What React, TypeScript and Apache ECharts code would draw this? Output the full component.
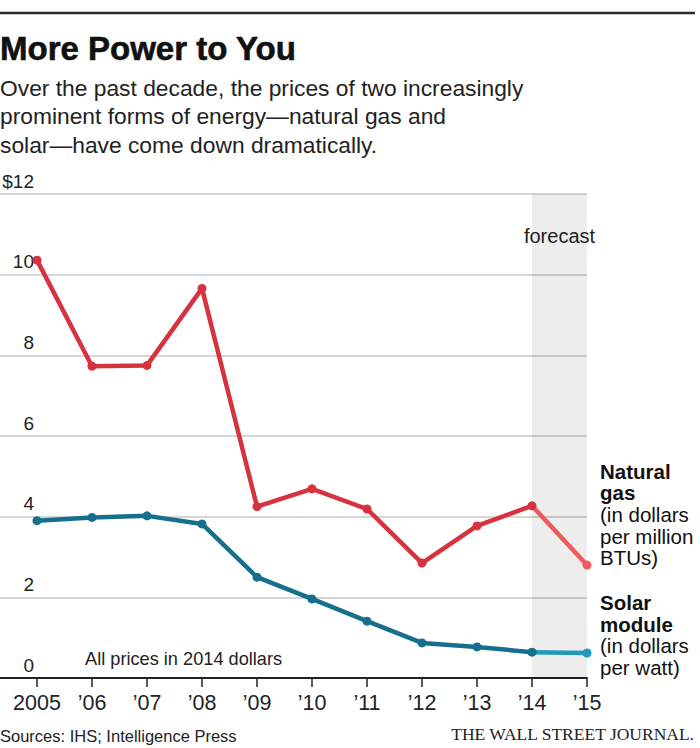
import React, { useEffect, useRef } from "react";
import * as echarts from "echarts";

// ---- data ----
const years = [2005, 2006, 2007, 2008, 2009, 2010, 2011, 2012, 2013, 2014, 2015];
const xTickLabels = ["2005", "\u201906", "\u201907", "\u201908", "\u201909", "\u201910", "\u201911", "\u201912", "\u201913", "\u201914", "\u201915"];
const gasPrices = [10.36, 7.73, 7.75, 9.66, 4.25, 4.69, 4.19, 2.85, 3.77, 4.27, 2.8];
const solarPrices = [3.9, 3.98, 4.02, 3.82, 2.5, 1.96, 1.41, 0.87, 0.77, 0.64, 0.62];
const yTicks = [0, 2, 4, 6, 8, 10, 12];
const forecastStart = 2014;
const forecastEnd = 2015;

const titleText = "More Power to You";
const subtitleLines = [
  "Over the past decade, the prices of two increasingly",
  "prominent forms of energy\u2014natural gas and",
  "solar\u2014have come down dramatically.",
];
const gasLabelBold = ["Natural", "gas"];
const gasLabelUnit = ["(in dollars", "per million", "BTUs)"];
const solarLabelBold = ["Solar", "module"];
const solarLabelUnit = ["(in dollars", "per watt)"];
const noteText = "All prices in 2014 dollars";
const sourceText = "Sources: IHS; Intelligence Press";
const creditText = "THE WALL STREET JOURNAL.";
const forecastText = "forecast";

const SANS = "'Liberation Sans', Arial, sans-serif";
const RED = "#d6333f";
const RED_LIGHT = "#ef5a5f";
const TEAL = "#176f8e";
const TEAL_LIGHT = "#1f99bd";

export default function App() {
  const ref = useRef<HTMLDivElement>(null);

  useEffect(() => {
    if (!ref.current) return;
    const chart = echarts.init(ref.current, null, { renderer: "svg" });

    const histIdx = years.map((y, i) => i).filter((i) => years[i] <= forecastStart);
    const fcIdx = years.map((y, i) => i).filter((i) => years[i] >= forecastStart);

    const gasHist = histIdx.map((i) => [years[i], gasPrices[i]]);
    const solarHist = histIdx.map((i) => [years[i], solarPrices[i]]);
    const gasFc = fcIdx.map((i, k) =>
      k === 0 ? { value: [years[i], gasPrices[i]], symbol: "none" } : { value: [years[i], gasPrices[i]] }
    );
    const solarFc = fcIdx.map((i, k) =>
      k === 0 ? { value: [years[i], solarPrices[i]], symbol: "none" } : { value: [years[i], solarPrices[i]] }
    );

    const rightX = 600;
    const labelF = 20.5;
    const lineTexts: any[] = [];
    const addLines = (lines: string[], baselines: number[], bold: boolean) => {
      lines.forEach((t, i) => {
        lineTexts.push({
          type: "text",
          x: rightX,
          y: baselines[i] - 0.35 * labelF,
          style: {
            text: t,
            font: `${bold ? "bold " : ""}${labelF}px ${SANS}`,
            fill: "#111",
            textAlign: "left",
            textVerticalAlign: "middle",
          },
        });
      });
    };
    addLines(gasLabelBold, [479, 500], true);
    addLines(gasLabelUnit, [522, 543.5, 565], false);
    addLines(solarLabelBold, [610, 631.5], true);
    addLines(solarLabelUnit, [653, 675], false);

    const subF = 22.8;
    const subBaselines = [95.7, 124.2, 152.7];

    const lineBase = {
      type: "line",
      lineStyle: { width: 4.5 },
      symbol: "circle",
      symbolSize: 9,
      showSymbol: true,
      silent: true,
    };

    chart.setOption({
      animation: false,
      grid: { left: 0, right: 113, top: 194, bottom: 70, containLabel: false, outerBoundsMode: "none" },
      xAxis: {
        type: "value",
        min: 2005 - 37 / 55,
        max: forecastEnd,
        splitLine: { show: false },
        axisLine: { show: true, lineStyle: { color: "#222", width: 2 } },
        axisTick: {
          show: true,
          customValues: years,
          length: 9,
          lineStyle: { color: "#222", width: 1.5 },
        },
        axisLabel: {
          customValues: years,
          formatter: (v: number) => xTickLabels[years.indexOf(Math.round(v))] ?? "",
          fontFamily: SANS,
          fontSize: 21.5,
          color: "#222",
          margin: 14,
          lineHeight: 21.5,
        },
      },
      yAxis: {
        type: "value",
        min: 0,
        max: 12,
        interval: 2,
        axisLine: { show: false },
        axisTick: { show: false },
        splitLine: { show: true, lineStyle: { color: "#c8c8c8", width: 1.5 } },
        axisLabel: {
          inside: true,
          margin: 34,
          align: "right",
          verticalAlign: "bottom",
          lineHeight: 20,
          padding: [0, 0, 3, 0],
          fontFamily: SANS,
          fontSize: 19,
          color: "#222",
          formatter: (v: number) => (v === yTicks[yTicks.length - 1] ? "$" + v : String(v)),
        },
      },
      series: [
        {
          type: "line",
          data: [],
          z: 1,
          markArea: {
            silent: true,
            itemStyle: { color: "rgba(0,0,0,0.072)" },
            label: {
              show: true,
              position: "insideTop",
              distance: 32,
              formatter: forecastText,
              fontFamily: SANS,
              fontSize: 20,
              color: "#222",
            },
            data: [[{ xAxis: forecastStart }, { xAxis: forecastEnd }]],
          },
        },
        { ...lineBase, z: 3, data: gasFc, itemStyle: { color: RED_LIGHT }, lineStyle: { width: 4.5, color: RED_LIGHT } },
        { ...lineBase, z: 4, data: gasHist, itemStyle: { color: RED }, lineStyle: { width: 4.5, color: RED } },
        { ...lineBase, z: 3, data: solarFc, itemStyle: { color: TEAL_LIGHT }, lineStyle: { width: 4.5, color: TEAL_LIGHT } },
        { ...lineBase, z: 4, data: solarHist, itemStyle: { color: TEAL }, lineStyle: { width: 4.5, color: TEAL } },
      ],
      graphic: [
        {
          type: "line",
          shape: { x1: 0, y1: 13, x2: 695, y2: 13 },
          style: { stroke: "#2a2a2a", lineWidth: 2.5 },
        },
        {
          type: "text",
          x: 0,
          y: 60 - 0.35 * 33,
          style: {
            text: titleText,
            font: `bold 33px ${SANS}`,
            fill: "#111",
            textAlign: "left",
            textVerticalAlign: "middle",
            stroke: "#111",
            lineWidth: 0.6,
          },
        },
        ...subtitleLines.map((t, i) => ({
          type: "text",
          x: 0,
          y: subBaselines[i] - 0.35 * subF,
          style: {
            text: t,
            font: `${subF}px ${SANS}`,
            fill: "#222",
            textAlign: "left",
            textVerticalAlign: "middle",
          },
        })),
        {
          type: "text",
          x: 85,
          y: 665 - 0.35 * 18.2,
          style: {
            text: noteText,
            font: `18.2px ${SANS}`,
            fill: "#222",
            textAlign: "left",
            textVerticalAlign: "middle",
          },
        },
        {
          type: "text",
          x: 0,
          y: 742 - 0.35 * 16.5,
          style: {
            text: sourceText,
            font: `16.5px ${SANS}`,
            fill: "#222",
            textAlign: "left",
            textVerticalAlign: "middle",
          },
        },
        {
          type: "text",
          x: 694,
          y: 740 - 0.33 * 17.5,
          style: {
            text: creditText,
            font: `17.5px 'Liberation Serif', 'Times New Roman', serif`,
            fill: "#222",
            textAlign: "right",
            textVerticalAlign: "middle",
          },
        },
        ...lineTexts,
      ],
    });

    return () => chart.dispose();
  }, []);

  return (
    <div
      ref={ref}
      style={{ position: "absolute", left: 0, top: 0, width: 700, height: 748, background: "#fff" }}
    />
  );
}
